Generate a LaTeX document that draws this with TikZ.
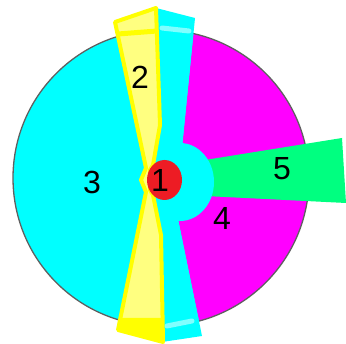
\documentclass[tikz,border=0pt]{standalone}
\usepackage{fontspec}
\setmainfont{Liberation Sans}
\begin{document}
\begin{tikzpicture}[x=1pt,y=-1pt,
  lbl/.style={font=\fontsize{32}{32}\selectfont, text=black, inner sep=0pt},
  ystrip/.style={fill=yelF, draw=yelD, line width=4pt, line join=round}]
\definecolor{cyanC}{RGB}{0,255,255}
\definecolor{magC}{RGB}{255,0,255}
\definecolor{yelD}{RGB}{255,255,0}
\definecolor{yelF}{RGB}{255,255,128}
\definecolor{greenC}{RGB}{0,255,128}
\definecolor{redC}{RGB}{237,28,36}
\definecolor{lcyan}{RGB}{128,255,255}
\definecolor{rimC}{RGB}{96,96,96}
\useasboundingbox (0,0) rectangle (346,344);
% main disc
\coordinate (O) at (161,178);
\fill[cyanC] (O) circle[radius=148];
% magenta sector
\begin{scope}
  \clip (O) circle[radius=148];
  \fill[magC] (195,18) -- (179,178) -- (170,180) -- (205,350) -- (400,350) -- (400,0) -- cycle;
\end{scope}
\draw[rimC, line width=1.3pt] (O) circle[radius=148];
% green wedge
\fill[greenC] (205,160) -- (342,138) -- (346,203) -- (205,196) -- cycle;
% cyan hub
\fill[cyanC] (180,182) ellipse[x radius=34, y radius=39];
% cyan strips
\fill[cyanC] (156,8) -- (195,18) -- (179,178) -- (158,178) -- cycle;
\fill[cyanC] (162,342) -- (202,336) -- (170,180) -- (160,180) -- cycle;
\draw[lcyan, line width=5pt, line cap=round] (162,28) -- (189,31);
\draw[lcyan, line width=5pt, line cap=round] (167,326) -- (192,321);
% yellow bowtie
\path[ystrip] (115,22) -- (156,8) -- (160,125) -- (153,165) -- (150,170)
  -- (150,190) -- (153,195) -- (161,235) -- (163,342) -- (118,330)
  -- (146,192) -- (141,180) -- (146,168) -- cycle;
\draw[yelD, line width=5pt] (118,34) -- (157,31);
\fill[yelD] (120,318) -- (162,318) -- (163,342) -- (118,330) -- cycle;
% red centre
\fill[redC] (164.5,180) ellipse[x radius=17.5, y radius=20];
% labels
\node[lbl] (l1) at (160,180) {1};
\node[lbl] (l2) at (140,77) {2};
\node[lbl] (l3) at (92,182) {3};
\node[lbl] (l4) at (222,218) {4};
\node[lbl] (l5) at (282,169) {5};
\end{tikzpicture}
\end{document}
